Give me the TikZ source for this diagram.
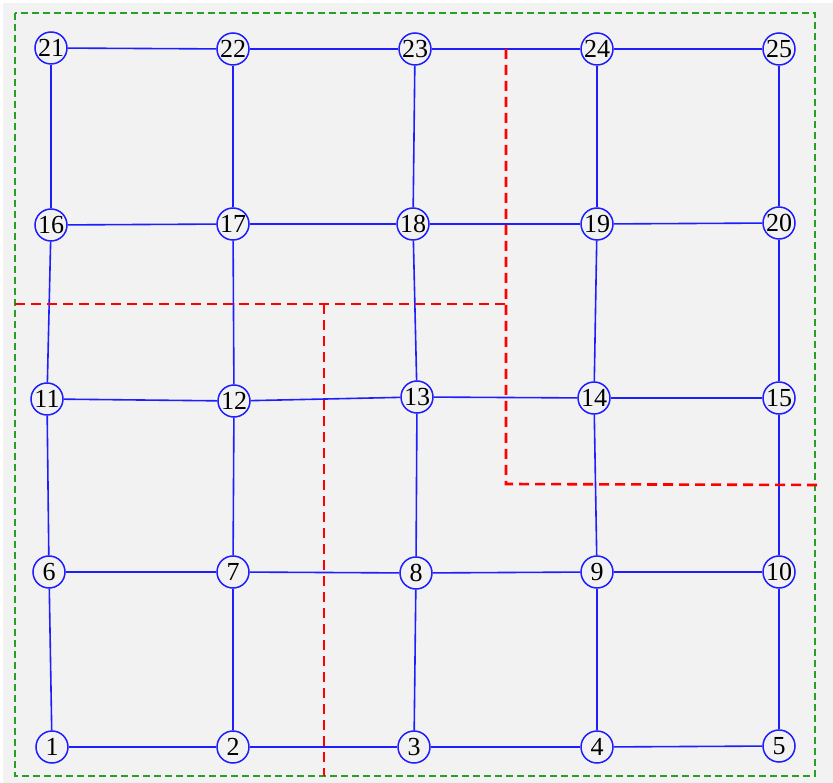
\documentclass[tikz,border=0pt]{standalone}
\usepackage{fontspec}
\setmainfont{Liberation Serif}
\definecolor{bggray}{RGB}{242,242,242}
\definecolor{bordergreen}{RGB}{40,160,40}
\definecolor{linkblue}{RGB}{30,30,255}
\tikzset{
  vtx/.style={circle, draw=linkblue, line width=1.5pt, minimum size=32pt, inner sep=0pt, text=black, font=\fontsize{26}{26}\selectfont},
  link/.style={draw=linkblue, line width=1.6pt},
  cut/.style={draw=red, line width=2.6pt, dash pattern=on 10pt off 6pt},
  frame/.style={draw=bordergreen, line width=1.2pt, dash pattern=on 7pt off 4pt}
}
\begin{document}
\begin{tikzpicture}[x=1pt,y=-1pt]
\useasboundingbox (0,0) rectangle (833,783);
\fill[white] (0,0) rectangle (833,783);
\fill[bggray] (3,3) rectangle (833,783);
\draw[frame] (15,13) rectangle (815,776);
% nodes
\node[vtx] (n21) at (51,48) {21};
\node[vtx] (n22) at (233,49) {22};
\node[vtx] (n23) at (415,49) {23};
\node[vtx] (n24) at (597,49) {24};
\node[vtx] (n25) at (779,49) {25};
\node[vtx] (n16) at (51,225) {16};
\node[vtx] (n17) at (233,224) {17};
\node[vtx] (n18) at (413,224) {18};
\node[vtx] (n19) at (597,224) {19};
\node[vtx] (n20) at (779,223) {20};
\node[vtx] (n11) at (47,399) {11};
\node[vtx] (n12) at (234,401) {12};
\node[vtx] (n13) at (417,397) {13};
\node[vtx] (n14) at (594,398) {14};
\node[vtx] (n15) at (779,398) {15};
\node[vtx] (n6) at (49,572) {6};
\node[vtx] (n7) at (233,572) {7};
\node[vtx] (n8) at (416,573) {8};
\node[vtx] (n9) at (597,572) {9};
\node[vtx] (n10) at (779,572) {10};
\node[vtx] (n1) at (52,747) {1};
\node[vtx] (n2) at (233,747) {2};
\node[vtx] (n3) at (414,747) {3};
\node[vtx] (n4) at (597,747) {4};
\node[vtx] (n5) at (779,746) {5};
% links
\foreach \r in {0,5,10,15,20}{
  \foreach \c in {1,2,3,4}{
    \pgfmathtruncatemacro{\a}{\r+\c}
    \pgfmathtruncatemacro{\b}{\r+\c+1}
    \draw[link] (n\a) -- (n\b);
  }
}
\foreach \i in {1,...,20}{
  \pgfmathtruncatemacro{\b}{\i+5}
  \draw[link] (n\i) -- (n\b);
}
% cut lines
\coordinate (c1) at (506,49);
\coordinate (c2) at (506,484);
\coordinate (c3) at (817,485);
\coordinate (c4) at (15,304);
\coordinate (c5) at (506,304);
\coordinate (c6) at (324,304);
\coordinate (c7) at (324,776);
\draw[cut] (c1) -- (c2) -- (c3);
\draw[cut] (c4) -- (c5);
\draw[cut] (c6) -- (c7);
\end{tikzpicture}
\end{document}
